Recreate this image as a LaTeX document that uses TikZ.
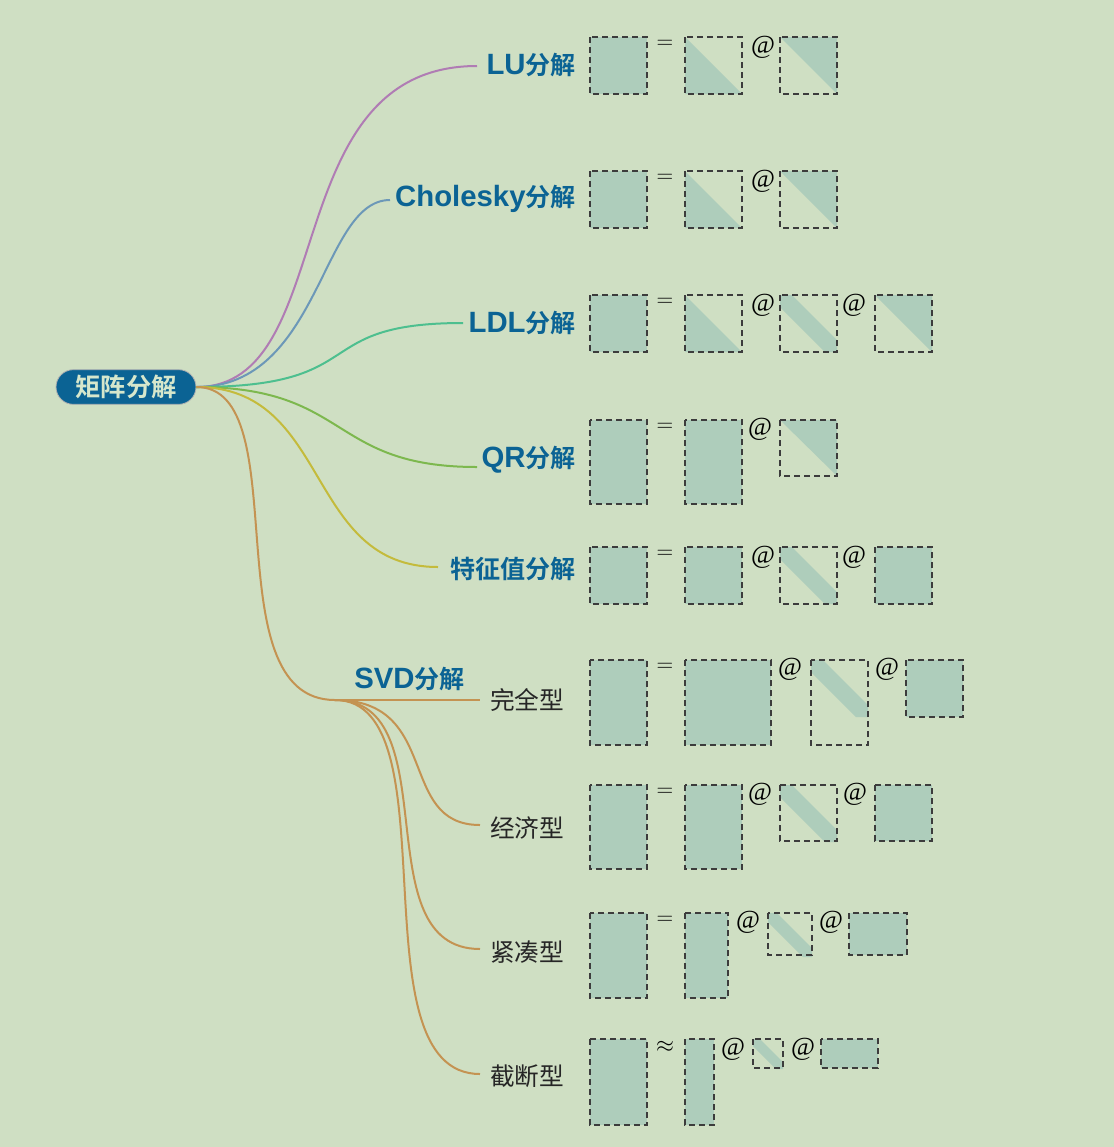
\documentclass[tikz,border=0pt]{standalone}
\usepackage{fontspec}
\newfontfamily\cjk{Noto Sans CJK SC}[BoldFont={Noto Sans CJK SC Bold}]
\newfontfamily\lat{Liberation Sans}
\newfontfamily\opserif{Liberation Serif}
\definecolor{bg}{HTML}{CFDFC3}
\definecolor{matfillc}{HTML}{AECDBB}
\definecolor{matlinec}{HTML}{3C3C3C}
\definecolor{rootblue}{HTML}{0B6394}
\definecolor{roottext}{HTML}{D6E7CC}
\definecolor{labblue}{HTML}{0B6394}
\definecolor{cLU}{HTML}{B07CB4}
\definecolor{cCH}{HTML}{6C98B8}
\definecolor{cLDL}{HTML}{4DBF8F}
\definecolor{cQR}{HTML}{7DB84E}
\definecolor{cEIG}{HTML}{C4BB3C}
\definecolor{cSVD}{HTML}{C49352}
\newcommand\zh[1]{{\cjk\bfseries\fontsize{18.8}{22}\selectfont #1}}
\newcommand\MatFull[4]{\fill[matfill] (#1,#2) rectangle (#3,#4); \draw[matline] (#1,#2) rectangle (#3,#4);}
\newcommand\MatLow[4]{\fill[matfill] (#1,#2) -- (#1,#4) -- (#3,#4) -- cycle; \draw[matline] (#1,#2) rectangle (#3,#4);}
\newcommand\MatUp[4]{\fill[matfill] (#1,#2) -- (#3,#2) -- (#3,#4) -- cycle; \draw[matline] (#1,#2) rectangle (#3,#4);}
\newcommand\MatDiag[5]{\fill[matfill] (#1,#2) -- ({#1+#5},#2) -- (#3,{#2+#3-#1-#5}) -- (#3,{#2+#3-#1}) -- ({#3-#5},{#2+#3-#1}) -- (#1,{#2+#5}) -- cycle; \draw[matline] (#1,#2) rectangle (#3,#4);}
\begin{document}
\begin{tikzpicture}[x=0.75pt,y=-0.75pt,
  matfill/.style={fill=matfillc},
  matline/.style={draw=matlinec,line width=1.1pt,dash pattern=on 4.5pt off 3pt},
  rootnode/.style={fill=rootblue,draw=gray!60,line width=0.6pt,rounded corners=13pt,minimum width=105pt,minimum height=26pt,inner sep=0pt,text=roottext,font=\cjk\bfseries\fontsize{19}{22}\selectfont},
  branchlab/.style={inner sep=0pt,anchor=east,text=labblue,font=\lat\bfseries\fontsize{22}{26}\selectfont},
  sublab/.style={inner sep=0pt,anchor=west,text=black!85,font=\cjk\fontsize{18.5}{22}\selectfont},
  br/.style={line width=1.5pt},
  opeq/.style={inner sep=0pt,font=\fontsize{17}{19}\selectfont},
  opat/.style={inner sep=0pt,font=\opserif\fontsize{19.5}{22}\selectfont}]
\fill[bg] (0,0) rectangle (1114,1147);
\useasboundingbox (0,0) rectangle (1114,1147);

% root
\node[rootnode] (root) at (126,387) {矩阵分解};

% branch labels
\node[branchlab] (lu) at (576,65) {LU\zh{分解}};
\node[branchlab] (chol) at (576,199) {Cholesky\zh{分解}};
\node[branchlab] (ldl) at (576,323) {LDL\zh{分解}};
\node[branchlab] (qr) at (576,460) {QR\zh{分解}};
\node[branchlab] (eig) at (576,569) {\zh{特征值分解}};
\node[branchlab] (svd) at (465,679) {SVD\zh{分解}};

\node[sublab] (full) at (490,700) {完全型};
\node[sublab] (econ) at (490,828) {经济型};
\node[sublab] (comp) at (490,952) {紧凑型};
\node[sublab] (trunc) at (490,1076) {截断型};

% line ends
\coordinate (luE) at (477,66);
\coordinate (chE) at (390,200);
\coordinate (ldlE) at (463,323);
\coordinate (qrE) at (477,467);
\coordinate (eigE) at (438,567);
\coordinate (svdE) at (335,700);
\coordinate (fullE) at (480,700);
\coordinate (econE) at (480,825);
\coordinate (compE) at (480,949);
\coordinate (truncE) at (480,1074);

% branches
\draw[br,cLU] (root.east) .. controls (341,387) and (274,66) .. (luE);
\draw[br,cCH] (root.east) .. controls (321,387) and (321,200) .. (chE);
\draw[br,cLDL] (root.east) .. controls (374,387) and (306,323) .. (ldlE);
\draw[br,cQR] (root.east) .. controls (351,387) and (328,467) .. (qrE);
\draw[br,cEIG] (root.east) .. controls (332,387) and (304,567) .. (eigE);
\draw[br,cSVD] (root.east) .. controls (299,387) and (210,700) .. (svdE);
\draw[br,cSVD] (svdE) -- (fullE);
\draw[br,cSVD] (svdE) .. controls (442,700) and (396,825) .. (econE);
\draw[br,cSVD] (svdE) .. controls (450,700) and (362,949) .. (compE);
\draw[br,cSVD] (svdE) .. controls (455,700) and (352,1074) .. (truncE);

% LU
\MatFull{590}{37}{647}{94}
\MatLow{685}{37}{742}{94}
\MatUp{780}{37}{837}{94}
\node[opeq] (eq1) at (665,44) {$=$};
\node[opat] (at1) at (763,47) {@};
% Cholesky
\MatFull{590}{171}{647}{228}
\MatLow{685}{171}{742}{228}
\MatUp{780}{171}{837}{228}
\node[opeq] (eq2) at (665,178) {$=$};
\node[opat] (at2) at (763,181) {@};
% LDL
\MatFull{590}{295}{647}{352}
\MatLow{685}{295}{742}{352}
\MatDiag{780}{295}{837}{352}{12}
\MatUp{875}{295}{932}{352}
\node[opeq] (eq3) at (665,302) {$=$};
\node[opat] (at3a) at (763,305) {@};
\node[opat] (at3b) at (854,305) {@};
% QR
\MatFull{590}{420}{647}{504}
\MatFull{685}{420}{742}{504}
\MatUp{780}{420}{837}{476}
\node[opeq] (eq4) at (665,427) {$=$};
\node[opat] (at4) at (760,429) {@};
% Eigen
\MatFull{590}{547}{647}{604}
\MatFull{685}{547}{742}{604}
\MatDiag{780}{547}{837}{604}{12}
\MatFull{875}{547}{932}{604}
\node[opeq] (eq5) at (665,554) {$=$};
\node[opat] (at5a) at (763,557) {@};
\node[opat] (at5b) at (854,557) {@};
% SVD full
\MatFull{590}{660}{647}{745}
\MatFull{685}{660}{771}{745}
\MatDiag{811}{660}{868}{745}{12}
\MatFull{906}{660}{963}{717}
\node[opeq] (eq6) at (665,667) {$=$};
\node[opat] (at6a) at (790,669) {@};
\node[opat] (at6b) at (887,669) {@};
% SVD economy
\MatFull{590}{785}{647}{869}
\MatFull{685}{785}{742}{869}
\MatDiag{780}{785}{837}{841}{12}
\MatFull{875}{785}{932}{841}
\node[opeq] (eq7) at (665,792) {$=$};
\node[opat] (at7a) at (760,794) {@};
\node[opat] (at7b) at (855,794) {@};
% SVD compact
\MatFull{590}{913}{647}{998}
\MatFull{685}{913}{728}{998}
\MatDiag{768}{913}{812}{955}{9}
\MatFull{849}{913}{907}{955}
\node[opeq] (eq8) at (665,920) {$=$};
\node[opat] (at8a) at (748,922) {@};
\node[opat] (at8b) at (831,922) {@};
% SVD truncated
\MatFull{590}{1039}{647}{1125}
\MatFull{685}{1039}{714}{1125}
\MatDiag{753}{1039}{783}{1068}{7}
\MatFull{821}{1039}{878}{1068}
\node[opeq] (eq9) at (665,1047) {$\approx$};
\node[opat] (at9a) at (733,1049) {@};
\node[opat] (at9b) at (803,1049) {@};
\end{tikzpicture}
\end{document}
